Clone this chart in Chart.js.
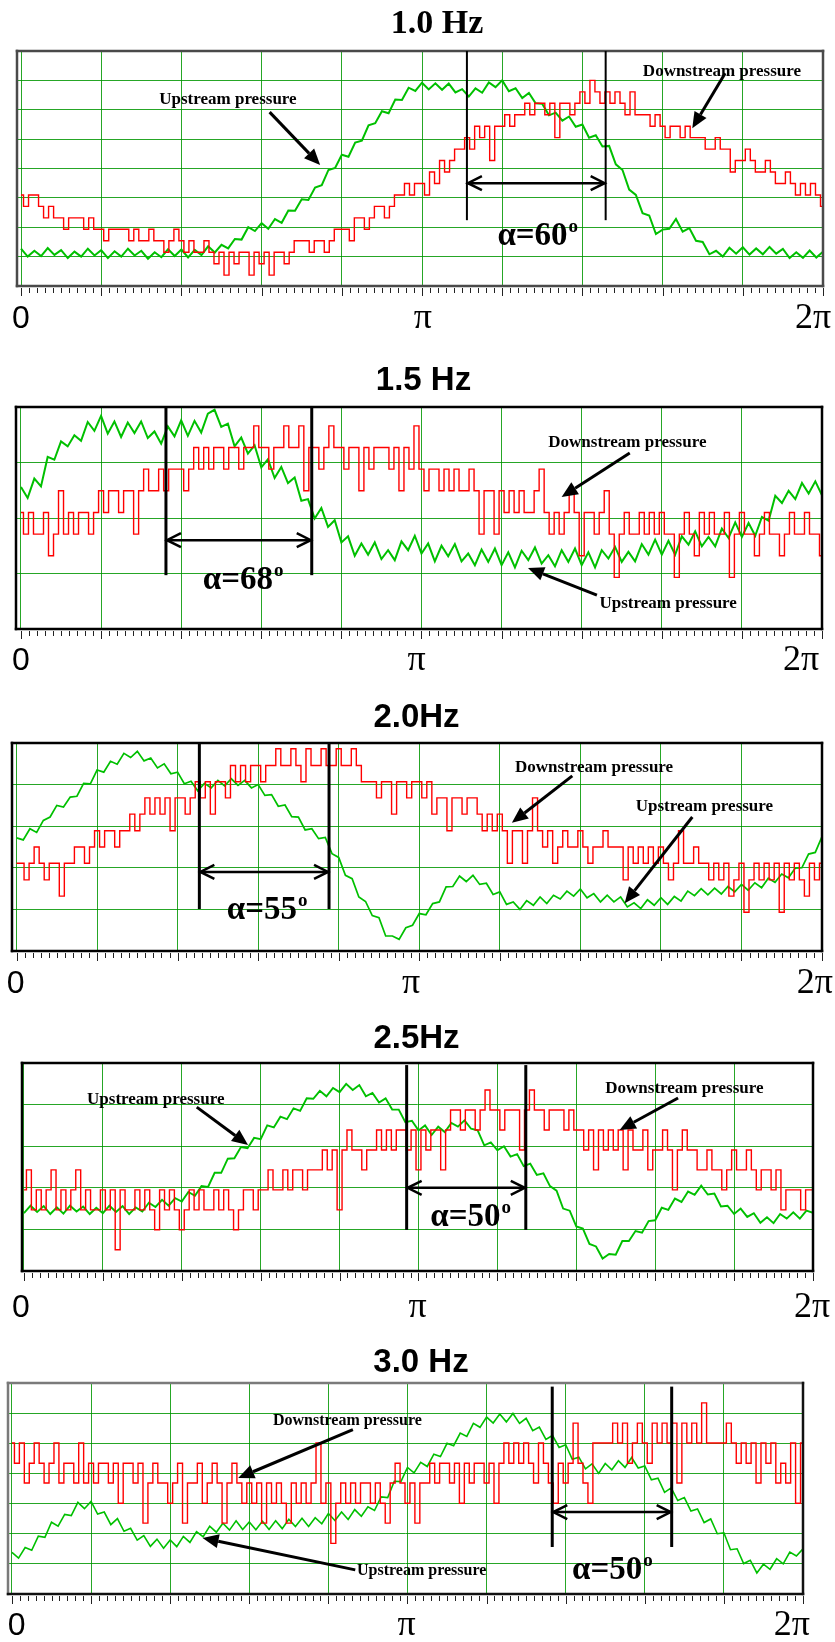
<!DOCTYPE html>
<html>
<head>
<meta charset="utf-8">
<script src="https://cdn.jsdelivr.net/npm/chart.js@4/dist/chart.umd.min.js"></script>
<style>
  html, body { margin: 0; padding: 0; background: #fff; }
  #wrap { position: relative; width: 835px; height: 1642px; overflow: hidden; }
  #wrap canvas { position: absolute; left: 0; }
</style>
</head>
<body>
<div id="wrap"></div>
<script>
// Phase axis: one cycle (0 .. 2π) split into ten grid divisions.
const PHASE_DIVISIONS = 10;
const tickText = ['0', 'π', '2π'];
const titles = ['1.0 Hz', '1.5 Hz', '2.0Hz', '2.5Hz', '3.0 Hz'];
const alphaText = ['α=60', 'α=68', 'α=55', 'α=50', 'α=50'];
const upLabel = 'Upstream pressure';
const downLabel = 'Downstream pressure';

// ---- 1.0 Hz ----
const up10 = [1.27,1.00,1.20,1.02,1.29,1.06,1.22,0.95,1.17,1.00,1.27,1.04,
1.22,0.95,1.18,1.00,1.27,1.04,1.20,0.93,1.15,0.98,1.25,1.02,
1.24,0.97,1.23,1.05,1.35,1.14,1.40,1.28,1.60,1.58,2.00,1.87,
2.14,1.95,2.28,2.15,2.57,2.56,2.95,2.93,3.35,3.43,3.95,4.02,
4.47,4.40,4.88,4.95,5.47,5.54,5.95,5.88,6.35,6.33,6.75,6.64,
6.92,6.69,6.90,6.68,6.89,6.59,6.70,6.45,6.73,6.58,6.93,6.77,
7.00,6.63,6.73,6.40,6.57,6.22,6.20,5.81,5.90,5.63,5.77,5.42,
5.50,5.05,5.13,4.75,4.77,4.14,3.95,3.28,3.10,2.48,2.40,1.77,
1.92,1.95,2.28,1.85,1.97,1.54,1.50,1.08,1.20,1.00,1.30,1.10,
1.32,1.07,1.28,1.08,1.33,1.10,1.26,0.95,1.15,0.96,1.21,0.97,
1.17];
const down10 = [3.10,2.71,3.10,3.10,2.71,2.32,2.71,2.32,2.32,1.93,2.32,2.32,
2.32,1.93,2.32,1.93,1.93,1.54,1.93,1.93,1.93,1.93,1.54,1.93,1.54,1.54,1.93,1.54,
1.54,1.15,1.54,1.93,1.54,1.15,1.54,1.15,1.15,1.54,1.15,0.76,1.15,0.37,1.15,0.76,
1.15,1.15,0.37,1.15,0.76,1.15,0.37,1.15,1.15,0.76,1.15,1.54,1.54,1.54,1.15,1.54,
1.54,1.15,1.54,1.93,1.93,1.93,1.54,2.32,2.32,1.93,2.32,2.71,2.71,2.32,2.71,3.10,
3.10,3.49,3.10,3.49,3.49,3.10,3.88,3.49,4.27,3.88,4.27,4.66,4.66,5.05,4.66,5.44,
5.05,5.44,4.27,5.44,5.44,5.83,5.44,5.83,5.83,6.22,5.83,6.22,6.22,5.83,6.22,5.05,
6.22,6.22,5.83,6.22,6.61,6.22,7.00,6.61,6.22,6.61,6.22,6.61,6.22,5.83,6.61,5.83,
5.83,5.83,5.44,5.83,5.44,5.05,5.44,5.44,5.05,5.44,5.05,5.05,5.05,4.66,4.66,5.05,
4.66,4.66,3.88,4.27,4.27,4.66,4.27,3.88,3.88,4.27,3.88,3.49,3.49,3.88,3.49,3.10,
3.49,3.10,3.49,3.10,2.71];

// ---- 1.5 Hz ----
const up15 = [2.56,2.36,2.71,2.57,3.10,3.05,3.38,3.29,3.49,3.39,3.73,3.57,
3.84,3.52,3.74,3.46,3.72,3.53,3.74,3.44,3.56,3.34,3.65,3.47,
3.76,3.48,3.75,3.54,3.88,3.95,3.64,3.70,3.29,3.45,3.16,3.31,
2.91,3.06,2.72,2.92,2.63,2.73,2.31,2.34,1.99,2.18,1.84,1.96,
1.56,1.67,1.32,1.54,1.34,1.56,1.26,1.42,1.24,1.58,1.42,1.68,
1.36,1.54,1.22,1.50,1.31,1.53,1.22,1.36,1.15,1.43,1.21,1.45,
1.15,1.38,1.11,1.41,1.24,1.47,1.18,1.33,1.13,1.42,1.21,1.45,
1.15,1.38,1.11,1.42,1.27,1.48,1.21,1.39,1.22,1.53,1.34,1.61,
1.34,1.59,1.34,1.67,1.52,1.76,1.49,1.66,1.49,1.81,1.64,1.92,
1.66,1.91,1.68,2.02,1.95,2.40,2.27,2.49,2.34,2.63,2.44,2.66,
2.41];
const down15 = [2.10,1.71,2.10,1.71,1.71,2.10,1.32,1.71,2.49,1.71,2.10,1.71,2.10,2.10,1.71,2.10,
2.49,2.10,2.49,2.49,2.10,2.49,2.49,1.71,2.49,2.88,2.49,2.49,2.88,2.49,2.88,2.88,
2.88,2.49,2.88,3.27,2.88,3.27,2.88,3.27,3.27,2.88,3.27,3.27,2.88,3.27,3.27,3.66,
3.27,3.27,2.88,3.27,3.27,3.66,3.27,3.27,3.66,2.49,3.27,3.27,2.88,3.27,3.66,3.27,
3.27,2.88,3.27,3.27,2.49,3.27,2.88,3.27,3.27,3.27,2.88,3.27,2.49,3.27,2.88,3.66,
2.88,2.49,2.88,2.88,2.49,2.88,2.49,2.88,2.49,2.49,2.88,2.49,1.71,2.49,2.49,1.71,
2.49,2.10,2.49,2.10,2.49,2.10,2.10,2.49,2.88,2.10,1.71,2.10,1.71,2.10,2.49,2.10,
1.32,2.10,2.10,1.71,2.10,2.49,1.71,0.93,1.71,2.10,1.71,1.71,2.10,1.71,2.10,1.71,
2.10,1.71,1.71,0.93,1.71,2.10,1.71,1.32,2.10,1.71,2.10,1.71,1.71,2.10,0.93,1.71,
2.10,1.71,1.71,1.32,1.71,2.10,1.71,1.71,1.32,1.71,2.10,1.71,1.71,2.10,1.71,1.71,
1.32];

// ---- 2.0 Hz ----
const up20 = [2.72,2.67,2.94,2.85,3.14,3.22,3.50,3.46,3.70,3.72,4.03,4.02,
4.35,4.30,4.56,4.49,4.75,4.65,4.80,4.57,4.64,4.40,4.50,4.26,
4.30,4.02,4.08,3.85,4.03,3.92,4.10,3.97,4.14,3.98,4.10,3.92,
4.00,3.74,3.76,3.48,3.51,3.23,3.22,2.91,2.94,2.70,2.73,2.34,
2.25,1.82,1.74,1.30,1.19,0.85,0.80,0.36,0.36,0.28,0.56,0.62,
0.90,0.87,1.14,1.18,1.54,1.55,1.80,1.67,1.82,1.60,1.63,1.36,
1.42,1.12,1.18,1.00,1.21,1.10,1.30,1.14,1.34,1.25,1.44,1.32,
1.49,1.28,1.38,1.18,1.34,1.18,1.30,1.06,1.16,1.02,1.23,1.10,
1.28,1.12,1.31,1.20,1.44,1.33,1.50,1.35,1.51,1.37,1.55,1.42,
1.60,1.46,1.64,1.52,1.75,1.65,1.85,1.76,1.99,2.00,2.33,2.37,
2.75];
const down20 = [2.11,2.11,1.71,2.11,2.50,2.11,1.71,2.11,2.11,1.32,2.11,2.11,2.50,2.50,2.11,2.50,
2.89,2.50,2.89,2.89,2.50,2.89,2.89,3.29,2.89,3.29,3.68,3.29,3.68,3.29,3.68,2.89,
3.68,3.68,3.29,3.68,4.07,3.68,4.07,3.29,4.07,4.07,3.68,4.46,4.07,4.46,4.07,4.46,
4.46,4.07,4.46,4.46,4.86,4.46,4.46,4.86,4.46,4.07,4.86,4.46,4.46,4.86,4.46,4.46,
4.86,4.46,4.46,4.86,4.46,4.07,4.07,4.07,3.68,4.07,4.07,3.29,4.07,4.07,3.68,4.07,
4.07,3.68,4.07,3.29,3.68,3.68,2.89,3.68,3.68,3.29,3.68,3.68,3.29,2.89,3.29,2.89,
3.29,2.89,2.11,2.89,2.89,2.11,2.89,3.68,2.89,2.50,2.89,2.11,2.50,2.89,2.50,2.50,
2.89,2.50,2.11,2.50,2.50,2.89,2.50,2.50,2.50,1.71,2.50,2.11,2.50,2.11,2.50,2.11,
2.50,2.11,1.71,2.11,2.89,2.11,2.11,2.50,2.11,2.11,1.71,2.11,1.71,2.11,1.32,1.71,
2.11,0.93,1.71,2.11,1.71,2.11,1.71,2.11,0.93,2.11,1.71,2.11,1.71,1.32,2.11,1.71,
2.11];

// ---- 2.5 Hz ----
const up25 = [1.39,1.57,1.42,1.56,1.37,1.53,1.38,1.57,1.43,1.55,1.37,1.52,
1.39,1.57,1.42,1.56,1.37,1.53,1.43,1.64,1.54,1.71,1.57,1.75,
1.67,1.90,1.81,2.04,2.02,2.36,2.36,2.70,2.71,2.98,2.95,3.20,
3.17,3.50,3.45,3.71,3.65,3.91,3.85,4.15,4.14,4.33,4.20,4.40,
4.30,4.50,4.35,4.47,4.20,4.28,4.05,4.15,3.88,3.88,3.58,3.61,
3.38,3.50,3.27,3.47,3.34,3.56,3.47,3.62,3.42,3.38,3.02,3.09,
2.90,3.00,2.75,2.81,2.52,2.58,2.31,2.35,2.04,1.93,1.50,1.45,
1.07,1.02,0.65,0.59,0.30,0.41,0.39,0.72,0.72,0.96,0.92,1.20,
1.22,1.52,1.47,1.74,1.66,1.91,1.83,2.05,1.84,1.86,1.55,1.57,
1.37,1.50,1.30,1.39,1.16,1.29,1.15,1.37,1.26,1.41,1.26,1.45,
1.40];
const down25 = [1.95,2.43,1.47,1.95,1.47,1.95,2.43,1.47,1.95,1.47,1.95,2.43,1.47,1.95,1.47,1.47,
1.95,1.47,1.95,0.51,1.95,1.47,1.47,1.95,1.47,1.95,1.47,0.99,1.95,1.47,1.95,1.47,
0.99,1.47,1.95,1.47,1.95,1.47,1.47,1.95,1.47,1.95,1.47,0.99,1.47,1.95,1.95,1.47,
1.95,1.95,2.43,1.95,1.95,2.43,1.95,2.43,2.43,1.95,2.43,2.43,2.43,2.91,2.43,2.91,
1.47,2.91,3.39,2.91,2.91,2.43,2.91,2.91,3.39,2.91,3.39,2.91,3.39,3.39,2.91,3.39,
2.43,3.39,2.91,3.39,3.39,2.43,3.39,3.87,3.87,3.39,3.87,3.87,3.39,3.87,4.35,3.87,
3.87,3.39,3.87,3.87,3.87,2.91,3.87,4.35,3.87,3.87,3.39,3.87,3.87,3.87,3.39,3.87,
3.39,3.39,2.91,3.39,2.43,3.39,2.91,3.39,2.91,3.39,2.43,3.39,2.91,2.91,3.39,2.43,
2.91,2.91,3.39,2.91,1.95,2.91,3.39,2.91,2.91,2.43,2.43,2.91,2.43,2.43,1.95,2.43,
2.91,2.43,2.43,2.91,2.43,1.95,2.43,2.43,1.95,2.43,1.47,1.95,1.95,1.95,1.47,1.95,
1.95];

// ---- 3.0 Hz ----
const up30 = [1.38,1.19,1.54,1.45,1.92,1.88,2.38,2.25,2.64,2.60,3.04,2.83,
3.07,2.65,2.72,2.30,2.50,2.08,2.18,1.79,1.94,1.58,1.82,1.52,
1.79,1.57,1.91,1.71,2.07,1.90,2.25,2.05,2.35,2.12,2.43,2.14,
2.39,2.13,2.41,2.14,2.43,2.17,2.48,2.24,2.51,2.24,2.53,2.33,
2.67,2.44,2.72,2.47,2.80,2.58,2.89,2.77,3.22,3.20,3.74,3.73,
4.20,4.02,4.37,4.23,4.64,4.56,5.00,4.92,5.34,5.23,5.66,5.53,
5.87,5.67,5.97,5.71,5.99,5.66,5.83,5.42,5.54,5.13,5.26,4.86,
4.95,4.47,4.54,4.15,4.32,4.00,4.33,4.12,4.42,4.20,4.53,4.18,
4.25,3.79,3.84,3.37,3.52,3.10,3.20,2.75,2.82,2.37,2.49,2.00,
2.03,1.47,1.50,1.01,1.12,0.70,0.99,0.82,1.17,1.00,1.39,1.26,
1.50];
const down30 = [5.01,4.34,5.01,3.68,4.34,5.01,4.34,3.68,4.34,5.01,3.68,4.34,4.34,3.68,5.01,3.68,
4.34,3.68,4.34,4.34,3.68,4.34,3.01,4.34,4.34,3.68,4.34,2.35,3.68,4.34,3.68,3.68,
3.01,3.68,4.34,2.35,3.68,3.68,4.34,3.01,3.68,4.34,3.68,2.35,3.68,4.34,3.68,3.01,
3.68,3.01,3.68,2.35,3.68,3.01,3.68,3.01,2.35,3.68,3.01,3.68,3.01,3.68,5.01,3.01,
3.68,1.68,3.01,3.68,3.01,3.68,3.01,3.68,3.68,3.01,3.68,3.01,2.35,3.68,4.34,3.68,
3.01,3.68,2.35,3.68,3.68,4.34,3.68,4.34,4.34,3.68,4.34,3.01,4.34,3.68,4.34,4.34,
3.68,4.34,3.01,4.34,5.01,4.34,5.01,4.34,5.01,4.34,3.68,5.01,4.34,3.68,3.01,4.34,
3.68,4.34,5.67,4.34,3.68,3.01,5.01,5.01,5.01,5.01,5.67,5.01,5.67,4.34,5.01,5.67,
5.01,4.34,5.67,5.01,5.67,5.01,5.67,3.68,5.67,5.01,5.67,5.01,6.34,5.01,5.01,5.01,
5.01,5.67,5.01,4.34,5.01,4.34,5.01,3.68,5.01,4.34,5.01,3.68,4.34,3.68,5.01,3.01,
5.01];

// Panel layout and annotation placement (annotation coordinates are in axis units).
const panels = [
  { up: up10, down: down10, title: titles[0], titleFont: 'bold 34px "Liberation Serif"', titleX: 437, titleAbove: 18,
    box: { top: 0, h: 340 }, pad: { left: 17, right: 12, top: 51, bottom: 54 }, xMin: -0.05, yMax: 8,
    frame: { top: '#4a4a4a', right: '#4a4a4a', bottom: '#4a4a4a', left: '#4a4a4a', w: 2.5 },
    tickCols: [0, 5.01, 9.875], tickBelow: 42, upWidth: 2,
    vlines: [5.56, 7.29], vTop: 8, vBot: 2.24, vWidth: 2, spanY: 3.5,
    alpha: { text: alphaText[0], x: 5.94, y: 1.39 },
    labels: [ { t: upLabel, x: 2.58, y: 6.36 }, { t: downLabel, x: 8.74, y: 7.31 } ], labelSize: 17,
    arrows: [ [3.10, 5.92, 3.73, 4.12], [8.78, 7.24, 8.37, 5.37] ] },
  { up: up15, down: down15, title: titles[1], titleFont: 'bold 33px "Liberation Sans"', titleX: 423.5, titleAbove: 17,
    box: { top: 340, h: 340 }, pad: { left: 16, right: 13, top: 67, bottom: 51 }, xMin: -0.062, yMax: 4,
    frame: { top: '#000', right: '#000', bottom: '#000', left: '#000', w: 2.5 },
    tickCols: [0, 4.94, 9.74], tickBelow: 41, upWidth: 2,
    vlines: [1.81, 3.63], vTop: 4, vBot: 0.97, vWidth: 3, spanY: 1.6,
    alpha: { text: alphaText[1], x: 2.27, y: 0.72 },
    labels: [ { t: downLabel, x: 7.57, y: 3.35 }, { t: upLabel, x: 8.08, y: 0.45 } ], labelSize: 17,
    arrows: [ [7.60, 3.17, 6.75, 2.38], [7.19, 0.61, 6.33, 1.10] ] },
  { up: up20, down: down20, title: titles[2], titleFont: 'bold 33px "Liberation Sans"', titleX: 416.5, titleAbove: 16,
    box: { top: 680, h: 325 }, pad: { left: 12, right: 13, top: 63, bottom: 54 }, xMin: -0.056, yMax: 5,
    frame: { top: '#000', right: '#000', bottom: '#000', left: '#000', w: 2.5 },
    tickCols: [-0.01, 4.9, 9.91], tickBelow: 42, upWidth: 1.7,
    vlines: [2.27, 3.88], vTop: 5, vBot: 1.01, vWidth: 3, spanY: 1.9,
    alpha: { text: alphaText[2], x: 2.61, y: 0.77 },
    labels: [ { t: downLabel, x: 7.17, y: 4.42 }, { t: upLabel, x: 8.54, y: 3.46 } ], labelSize: 17,
    arrows: [ [6.90, 4.21, 6.15, 3.08], [8.39, 3.22, 7.55, 1.15] ] },
  { up: up25, down: down25, title: titles[3], titleFont: 'bold 33px "Liberation Sans"', titleX: 416.5, titleAbove: 15,
    box: { top: 1005, h: 320 }, pad: { left: 22, right: 22, top: 58, bottom: 54 }, xMin: -0.025, yMax: 5,
    frame: { top: '#000', right: '#000', bottom: '#000', left: '#000', w: 2.5 },
    tickCols: [-0.04, 4.99, 9.99], tickBelow: 46, upWidth: 1.9,
    vlines: [4.85, 6.36], vTop: 4.95, vBot: 0.99, vWidth: 3, spanY: 2.0,
    alpha: { text: alphaText[3], x: 5.15, y: 1.08 },
    labels: [ { t: upLabel, x: 1.67, y: 4.13 }, { t: downLabel, x: 8.37, y: 4.38 } ], labelSize: 17,
    arrows: [ [2.19, 3.94, 2.84, 3.03], [8.29, 4.16, 7.55, 3.39] ] },
  { up: up30, down: down30, title: titles[4], titleFont: 'bold 33px "Liberation Sans"', titleX: 421, titleAbove: 11,
    box: { top: 1325, h: 317 }, pad: { left: 8, right: 32, top: 58, bottom: 48 }, xMin: -0.05, yMax: 7,
    frame: { top: '#7a7a7a', right: '#111', bottom: '#111', left: '#7a7a7a', w: 2.5 },
    tickCols: [0.06, 4.99, 9.86], tickBelow: 41, upWidth: 1.6,
    vlines: [6.83, 8.34], vTop: 6.88, vBot: 1.56, vWidth: 3, spanY: 2.72,
    alpha: { text: alphaText[4], x: 7.08, y: 0.5 },
    labels: [ { t: downLabel, x: 4.24, y: 5.75 }, { t: upLabel, x: 5.18, y: 0.76 } ], labelSize: 16,
    arrows: [ [4.31, 5.45, 2.86, 3.85], [4.34, 0.80, 2.41, 1.86] ] }
];

function series(values) {
  return values.map((v, i) => ({ x: i * PHASE_DIVISIONS / (values.length - 1), y: v }));
}

function solidArrow(ctx, x1, y1, x2, y2) {
  const ang = Math.atan2(y2 - y1, x2 - x1), L = 16, W = 7;
  const bx = x2 - L * Math.cos(ang), by = y2 - L * Math.sin(ang);
  ctx.lineWidth = 3;
  ctx.beginPath(); ctx.moveTo(x1, y1); ctx.lineTo(bx, by); ctx.stroke();
  ctx.beginPath();
  ctx.moveTo(x2, y2);
  ctx.lineTo(bx + W * Math.sin(ang), by - W * Math.cos(ang));
  ctx.lineTo(bx - W * Math.sin(ang), by + W * Math.cos(ang));
  ctx.closePath(); ctx.fill();
}

function edge(ctx, color, x1, y1, x2, y2) {
  ctx.strokeStyle = color;
  ctx.beginPath(); ctx.moveTo(x1, y1); ctx.lineTo(x2, y2); ctx.stroke();
}

const decor = {
  id: 'decor',
  afterDraw(chart, _args, opts) {
    const P = opts.panel;
    const { ctx, chartArea: a } = chart;
    const X = v => chart.scales.x.getPixelForValue(v);
    const Y = v => chart.scales.y.getPixelForValue(v);
    ctx.save();

    // phase ruler under the plot: ten small marks per grid division
    ctx.strokeStyle = '#222'; ctx.lineWidth = 1;
    for (let k = 0; k <= PHASE_DIVISIONS * 10; k++) {
      const px = Math.round(X(k / 10)) + 0.5;
      ctx.beginPath();
      ctx.moveTo(px, a.bottom + 2);
      ctx.lineTo(px, a.bottom + (k % 10 ? 7 : 10));
      ctx.stroke();
    }

    // plot frame
    const f = P.frame;
    ctx.lineWidth = f.w; ctx.lineCap = 'square';
    edge(ctx, f.top, a.left, a.top, a.right, a.top);
    edge(ctx, f.left, a.left, a.top, a.left, a.bottom);
    edge(ctx, f.bottom, a.left, a.bottom, a.right, a.bottom);
    edge(ctx, f.right, a.right, a.top, a.right, a.bottom);
    ctx.lineCap = 'butt';

    // phase labels
    ctx.fillStyle = '#000';
    ctx.textAlign = 'center'; ctx.textBaseline = 'alphabetic';
    tickText.forEach((t, i) => {
      ctx.font = i === 0 ? '32px "Liberation Sans"' : '36px "Liberation Serif"';
      ctx.fillText(t, X(P.tickCols[i]), a.bottom + P.tickBelow);
    });

    // title
    ctx.font = P.titleFont;
    ctx.fillText(P.title, P.titleX, a.top - P.titleAbove);

    // phase-shift markers
    ctx.strokeStyle = '#000';
    ctx.lineWidth = P.vWidth;
    P.vlines.forEach(v => {
      ctx.beginPath(); ctx.moveTo(X(v), Y(P.vTop)); ctx.lineTo(X(v), Y(P.vBot)); ctx.stroke();
    });
    const xa = X(P.vlines[0]) + 1, xb = X(P.vlines[1]) - 1, ys = Y(P.spanY);
    ctx.lineWidth = 2.5;
    ctx.beginPath(); ctx.moveTo(xa, ys); ctx.lineTo(xb, ys); ctx.stroke();
    ctx.beginPath();
    ctx.moveTo(xa + 14, ys - 7); ctx.lineTo(xa, ys); ctx.lineTo(xa + 14, ys + 7);
    ctx.moveTo(xb - 14, ys - 7); ctx.lineTo(xb, ys); ctx.lineTo(xb - 14, ys + 7);
    ctx.stroke();

    // phase angle
    ctx.textAlign = 'left';
    ctx.font = 'bold 33px "Liberation Serif"';
    const ax = X(P.alpha.x), ay = Y(P.alpha.y);
    ctx.fillText(P.alpha.text, ax, ay);
    const w = ctx.measureText(P.alpha.text).width;
    ctx.font = 'bold 19px "Liberation Serif"';
    ctx.fillText('o', ax + w + 1, ay - 13);

    // series labels with pointers
    ctx.textAlign = 'center'; ctx.textBaseline = 'middle';
    ctx.font = 'bold ' + P.labelSize + 'px "Liberation Serif"';
    P.labels.forEach(l => ctx.fillText(l.t, X(l.x), Y(l.y)));
    ctx.fillStyle = '#000'; ctx.strokeStyle = '#000';
    P.arrows.forEach(r => solidArrow(ctx, X(r[0]), Y(r[1]), X(r[2]), Y(r[3])));

    ctx.restore();
  }
};

const GRID = 'rgba(0, 150, 0, 0.85)';
const wrap = document.getElementById('wrap');

panels.forEach(P => {
  const c = document.createElement('canvas');
  c.width = 835; c.height = P.box.h;
  c.style.top = P.box.top + 'px';
  wrap.appendChild(c);
  new Chart(c, {
    type: 'line',
    data: {
      datasets: [
        { label: downLabel, data: series(P.down), borderColor: '#ff0000', borderWidth: 1.4,
          stepped: 'middle', pointRadius: 0, fill: false },
        { label: upLabel, data: series(P.up), borderColor: '#00c000', borderWidth: P.upWidth,
          pointRadius: 0, fill: false, tension: 0 }
      ]
    },
    options: {
      responsive: false, animation: false, devicePixelRatio: 1,
      layout: { padding: P.pad },
      plugins: { legend: { display: false }, tooltip: { enabled: false }, title: { display: false }, decor: { panel: P } },
      scales: {
        x: {
          type: 'linear', min: P.xMin, max: PHASE_DIVISIONS,
          ticks: { display: false },
          grid: { color: GRID, lineWidth: 1, drawTicks: false },
          border: { display: false },
          afterBuildTicks: s => { s.ticks = Array.from({ length: PHASE_DIVISIONS + 1 }, (_, k) => ({ value: k })); }
        },
        y: {
          type: 'linear', min: 0, max: P.yMax,
          ticks: { display: false, stepSize: 1 },
          grid: { color: GRID, lineWidth: 1, drawTicks: false },
          border: { display: false }
        }
      }
    },
    plugins: [decor]
  });
});
</script>
</body>
</html>
